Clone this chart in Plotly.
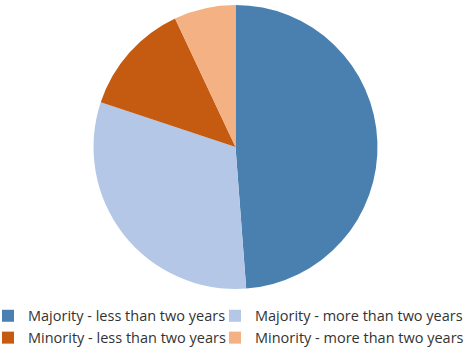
import plotly.graph_objects as go

categories = [
    "Majority - less than two years",
    "Majority - more than two years",
    "Minority - less than two years",
    "Minority - more than two years",
]
shares = [48.8, 31.3, 12.9, 7.0]
colors = ["#4A80AF", "#B4C7E7", "#C55A11", "#F4B183"]

W, H = 469, 350
cx, cy, r = 235.5, 147, 142

fig = go.Figure(
    go.Pie(
        labels=categories,
        values=shares,
        sort=False,
        direction="clockwise",
        rotation=0,
        textinfo="none",
        hoverinfo="label+percent",
        marker=dict(colors=colors, line=dict(width=0)),
        domain=dict(
            x=[(cx - r) / W, (cx + r) / W],
            y=[(H - cy - r) / H, (H - cy + r) / H],
        ),
    )
)

# blank full-width title row keeps the second legend column from being clipped
legend_spacer = "&nbsp;" * 150

fig.update_layout(
    width=W,
    height=H,
    margin=dict(l=0, r=0, t=0, b=0, autoexpand=False),
    paper_bgcolor="white",
    plot_bgcolor="white",
    font=dict(family="Open Sans, Noto Sans, sans-serif", size=14.5, color="#333333"),
    legend=dict(
        orientation="h",
        x=0.0,
        xanchor="left",
        y=-4 / H,
        yanchor="bottom",
        entrywidth=194,
        entrywidthmode="pixels",
        indentation=-12,
        bgcolor="rgba(0,0,0,0)",
        itemclick=False,
        font=dict(size=14.5),
        title=dict(text=legend_spacer, side="top", font=dict(size=14.5)),
    ),
)

fig.write_html("out.html")
